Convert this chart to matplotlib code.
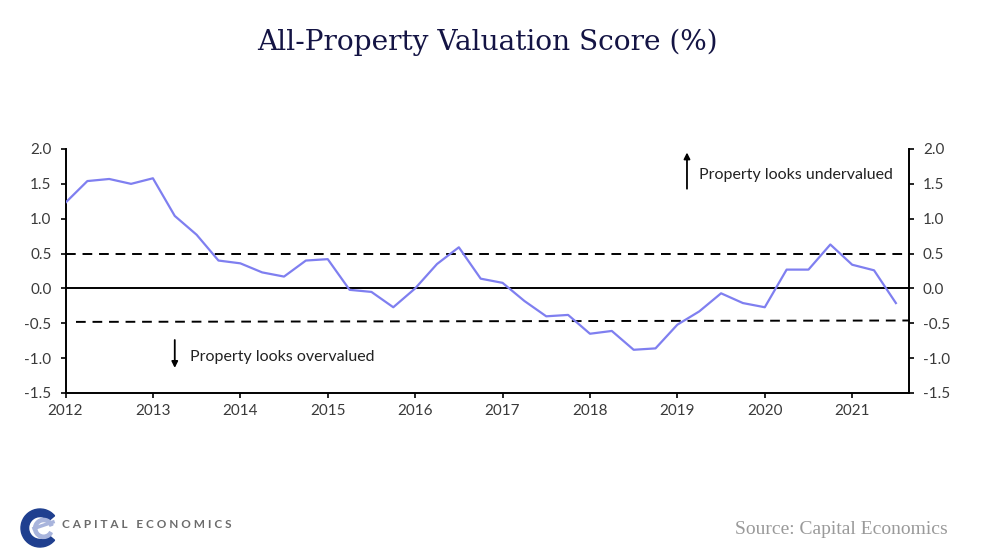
import matplotlib
matplotlib.use("Agg")
import matplotlib.pyplot as plt
from matplotlib.patches import Wedge
import numpy as np

# ---- data ----
start_year = 2012.0
values = [1.23, 1.54, 1.57, 1.50, 1.58, 1.04, 0.77, 0.40, 0.36, 0.23, 0.17, 0.40,
          0.42, -0.02, -0.05, -0.27, 0.00, 0.35, 0.59, 0.14, 0.08, -0.18, -0.40, -0.38,
          -0.65, -0.61, -0.88, -0.86, -0.52, -0.33, -0.07, -0.21, -0.27, 0.27, 0.27,
          0.63, 0.34, 0.26, -0.21]
upper_threshold = 0.5
lower_threshold = [-0.48, -0.46]   # slightly sloped in the original
year_ticks = [2012, 2013, 2014, 2015, 2016, 2017, 2018, 2019, 2020, 2021]
y_ticks = [2.0, 1.5, 1.0, 0.5, 0.0, -0.5, -1.0, -1.5]
y_tick_labels = ["2.0", "1.5", "1.0", "0.5", "0.0", "-0.5", "-1.0", "-1.5"]

dates = start_year + 0.25 * np.arange(len(values))

W, H = 983, 559
fig = plt.figure(figsize=(W / 100, H / 100), dpi=100)
ax = fig.add_axes([65.5 / W, 1 - 393 / H, (909 - 65.5) / W, (393 - 149) / H])

sans = ["Lato", "DejaVu Sans"]
serif = ["DejaVu Serif", "Liberation Serif"]

ax.plot(dates, values, color="#7f7ff0", lw=1.6, zorder=3)
ax.axhline(0, color="black", lw=1.4, zorder=2)
ax.axhline(upper_threshold, color="black", lw=1.4, ls=(0, (5, 3.5)), zorder=2)
ax.plot([2012.12, 2021.65], lower_threshold, color="black", lw=1.4, ls=(0, (5, 3.5)), zorder=2)

ax.set_xlim(2012, 2021.65)
ax.set_ylim(-1.5, 2.0)
ax.set_xticks(year_ticks)
ax.set_xticklabels([str(y) for y in year_ticks], fontfamily=sans, fontsize=11, color="#3a3a3a")
ax.set_yticks(y_ticks)
ax.set_yticklabels(y_tick_labels, fontfamily=sans, fontsize=11, color="#3a3a3a")
ax.tick_params(axis="y", which="both", left=True, right=True, labelleft=True, labelright=True,
               direction="out", length=3.5, width=1.2)
ax.tick_params(axis="y", which="both", pad=6.5)
ax.tick_params(axis="x", direction="out", length=3.5, width=1.2, pad=4.5)
for lbl in ax.yaxis.get_ticklabels(which="both"):
    lbl.set_fontfamily(sans)
ax.spines["top"].set_visible(False)
for s in ["left", "right", "bottom"]:
    ax.spines[s].set_linewidth(1.4)

# annotations
ax.annotate("", xy=(2019.11, 1.99), xytext=(2019.11, 1.39),
            arrowprops=dict(arrowstyle="-|>", color="black", lw=1.3, mutation_scale=9))
ax.text(2019.25, 1.63, "Property looks undervalued", fontfamily=sans, fontsize=11.5,
        color="#222222", va="center", ha="left")
ax.annotate("", xy=(2013.25, -1.18), xytext=(2013.25, -0.70),
            arrowprops=dict(arrowstyle="-|>", color="black", lw=1.3, mutation_scale=9))
ax.text(2013.43, -0.98, "Property looks overvalued", fontfamily=sans, fontsize=11.5,
        color="#222222", va="center", ha="left")

# title
fig.text(487 / W, 1 - 42 / H, "All-Property Valuation Score (%)", ha="center", va="center",
         fontfamily=serif, fontsize=20.2, color="#141444")

# source
fig.text(948 / W, 1 - 530 / H, "Source: Capital Economics", ha="right", va="center",
         fontfamily=["Liberation Serif", "DejaVu Serif"], fontsize=14, color="#9a9a9a")

# logo
lax = fig.add_axes([20 / W, 1 - 548 / H, 40 / W, 40 / H])
lax.set_xlim(-1, 1)
lax.set_ylim(-1, 1)
lax.set_aspect("equal")
lax.axis("off")
lax.add_patch(Wedge((0, 0), 0.95, 40, 320, width=0.38, color="#1f3f8f"))
lax.add_patch(Wedge((0.18, -0.02), 0.5, 20, 330, width=0.16, color="#a8b4dc"))
lax.plot([-0.3, 0.65], [-0.02, 0.3], color="#a8b4dc", lw=2.5)
fig.text(62 / W, 1 - 524 / H, "C A P I T A L   E C O N O M I C S", ha="left", va="center",
         fontfamily=sans, fontsize=8.5, fontweight="bold", color="#6b6b6b")

fig.savefig("out.png", dpi=100)
